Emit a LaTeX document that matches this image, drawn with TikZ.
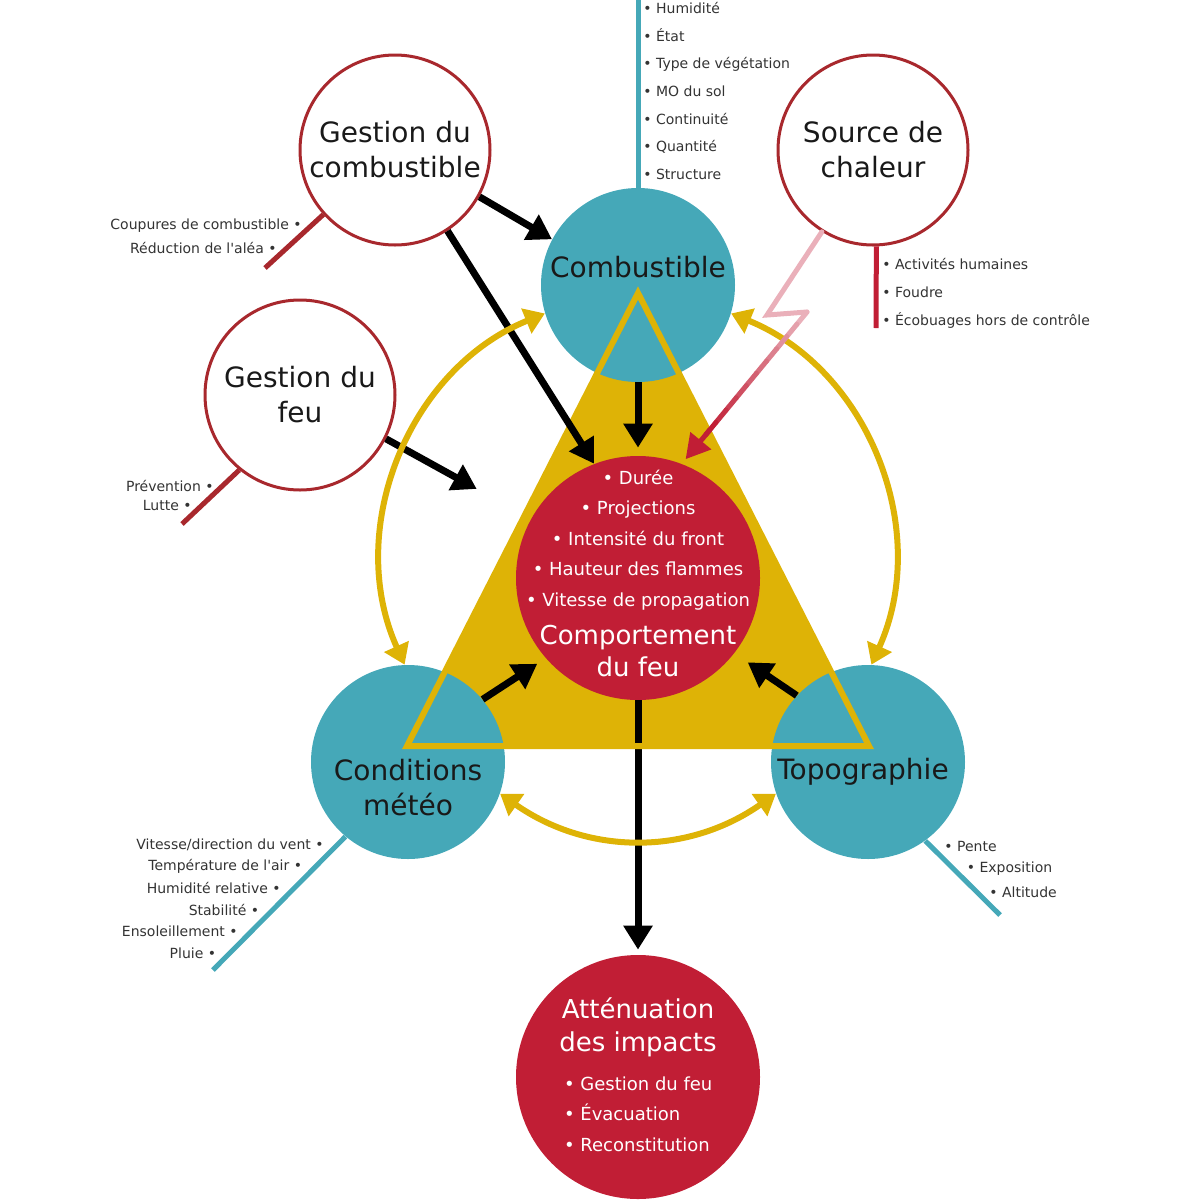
\documentclass[tikz,border=0pt]{standalone}
\usepackage{fontspec}
\setmainfont{DejaVu Sans}
\usepackage{xcolor}
\usetikzlibrary{arrows.meta,calc}

\definecolor{fueltl}{HTML}{45A8B8}
\definecolor{firered}{HTML}{C11E35}
\definecolor{mgmtred}{HTML}{A8282D}
\definecolor{tri}{HTML}{DEB306}
\definecolor{hotpink}{HTML}{EAB0BA}
\definecolor{txtgray}{HTML}{333333}

\begin{document}
\begin{tikzpicture}[x=0.5pt,y=-0.5pt]
  \tikzset{fuel/.style = {circle, fill=fueltl, minimum size=97pt, inner sep=0pt}}
  \tikzset{fire/.style = {circle, fill=firered, minimum size=122pt, inner sep=0pt}}
  \tikzset{mgmt/.style = {circle, draw=mgmtred, line width=1.5pt, fill=white, minimum size=95pt, inner sep=0pt, align=center, font=\fontsize{14}{17.5}\selectfont, text=black!90}}
  \tikzset{title/.style = {align=center, font=\fontsize{14}{17.5}\selectfont, text=black!90}}
  \tikzset{wtitle/.style = {align=center, font=\fontsize{13}{16.3}\selectfont, text=white}}
  \tikzset{witems/.style = {font=\fontsize{9}{15.2}\selectfont, text=white}}
  \tikzset{small/.style = {font=\fontsize{7}{14}\selectfont, text=txtgray, inner sep=0pt}}
  \tikzset{push/.style = {line width=3.5pt, -{Triangle[length=12pt,width=14pt]}}}
  \tikzset{link/.style = {line width=3pt, draw=tri, {Triangle[length=10pt,width=13pt]}-{Triangle[length=10pt,width=13pt]}}}
  \tikzset{stalk/.style = {line width=2.5pt}}
  \tikzset{zap/.style = {line width=2.5pt, line cap=round, line join=miter}}

  \useasboundingbox (0,0) rectangle (1200,1200);

  % fire triangle
  \coordinate (ta) at (638,293);
  \coordinate (tb) at (407,746);
  \coordinate (tc) at (869,746);
  \fill[tri] (ta) -- (tb) -- (tc) -- cycle;

  % circles
  \node[fuel] (comb) at (638,285) {};
  \node[fuel] (cond) at (408,762) {};
  \node[fuel] (topo) at (868,762) {};
  \node[fire] (behav) at (638,578) {};
  \node[fire] (atten) at (638,1077) {};
  \node[mgmt] (gcomb) at (395,150) {Gestion du\\combustible};
  \node[mgmt] (src) at (873,150) {Source de\\chaleur};
  \node[mgmt] (gfeu) at (300,395) {Gestion du\\feu};

  \draw[push, shorten >=2.5pt] (behav.south) -- (atten.north);
  \draw[tri, line width=3pt] (ta) -- (tb) -- (tc) -- cycle;

  % black arrows
  \draw[push] (gcomb.-29) -- (comb.152);
  \draw[push] (gcomb.-57) -- (behav.111);
  \draw[push] (gfeu.-27) -- ($(gfeu.-27)!0.36!(behav)$);
  \draw[push] (comb.south) -- ([yshift=4pt]behav.north);
  \draw[push, shorten >=5pt] (cond.40) -- (behav.221);
  \draw[push, shorten >=8pt] (topo.137) -- (behav.-38);

  % yellow links
  \draw[link] (comb.197) to[bend right=46] (cond.92);
  \draw[link] (comb.-17) to[bend left=46] (topo.88);
  \draw[link] (cond.-19) to[bend right=35] (topo.-161);

  % lightning
  \coordinate (zapa) at (767,315);
  \coordinate (zapb) at (807,312);
  \coordinate (zapend) at ($(zapb)!0.97!(behav.69)$);
  \draw[zap, draw=hotpink] (src.-122) -- (zapa) -- (zapb);
  \foreach \k [evaluate=\k as \pc using {int(100*\k/9)}] in {0,...,9}
    \draw[zap, draw=firered!\pc!hotpink] ($(zapb)!{\k/12}!(zapend)$) -- ($(zapb)!{(\k+1)/12}!(zapend)$);
  \draw[zap, draw=firered, -{Triangle[length=12pt,width=13pt]}] ($(zapb)!0.8!(zapend)$) -- (zapend);

  % stalks
  \coordinate (combend) at (638,0);
  \draw[stalk, fueltl] (comb.north) -- (combend);
  \coordinate (srcend) at (876,328);
  \draw[stalk, firered] (src.-88) -- (srcend);
  \coordinate (gcombend) at (265,268);
  \draw[stalk, mgmtred] (gcomb.-138) -- (gcombend);
  \coordinate (gfeuend) at (182,524);
  \draw[stalk, mgmtred] (gfeu.-129) -- (gfeuend);
  \coordinate (condend) at (213,970);
  \draw[stalk, fueltl] (cond.-130) -- (condend);
  \coordinate (topoend) at (1000,915);
  \draw[stalk, fueltl] (topo.-54) -- (topoend);

  % labels
  \node[title] at ([yshift=9pt]comb.center) {Combustible};
  \node[title] at ([yshift=-13pt]cond.center) {Conditions\\météo};
  \node[title] at ([xshift=-2.5pt,yshift=-5pt]topo.center) {Topographie};
  \node[witems, align=center] at ([yshift=19pt]behav.center) {• Durée\\• Projections\\• Intensité du front\\• Hauteur des flammes\\• Vitesse de propagation};
  \node[wtitle] at ([yshift=-36.5pt]behav.center) {Comportement\\du feu};
  \node[wtitle] at ([yshift=25pt]atten.center) {Atténuation\\des impacts};
  \node[witems, align=left, anchor=west] at ([xshift=-40.5pt,yshift=-18.5pt]atten.center) {• Gestion du feu\\• Évacuation\\• Reconstitution};

  % lists
  \node[small, anchor=west, align=left, font=\fontsize{7}{13.85}\selectfont] (combl) at (643,91) {• Humidité\\• État\\• Type de végétation\\• MO du sol\\• Continuité\\• Quantité\\• Structure};
  \node[small, anchor=west, align=left] (srcl) at (882,293) {• Activités humaines\\• Foudre\\• Écobuages hors de contrôle};
  \node[small, anchor=east] (gcomb1) at (302,226) {Coupures de combustible •};
  \node[small, anchor=east] (gcomb2) at (277,248) {Réduction de l\textquotesingle aléa •};
  \node[small, anchor=east] (gfeu1) at (214,486) {Prévention •};
  \node[small, anchor=east] (gfeu2) at (192,505) {Lutte •};
  \foreach \t [count=\i from 0] in {Vitesse/direction du vent •, Température de l\textquotesingle air •, Humidité relative •, Stabilité •, Ensoleillement •, Pluie •}
    \node[small, anchor=east] (cond\i) at ({324-21.5*\i},{845+21.6*\i}) {\t};
  \foreach \t [count=\i from 0] in {Pente, Exposition, Altitude}
    \node[small, anchor=west] (topo\i) at ({944+22.5*\i},{846+23*\i}) {• \t};
\end{tikzpicture}
\end{document}
